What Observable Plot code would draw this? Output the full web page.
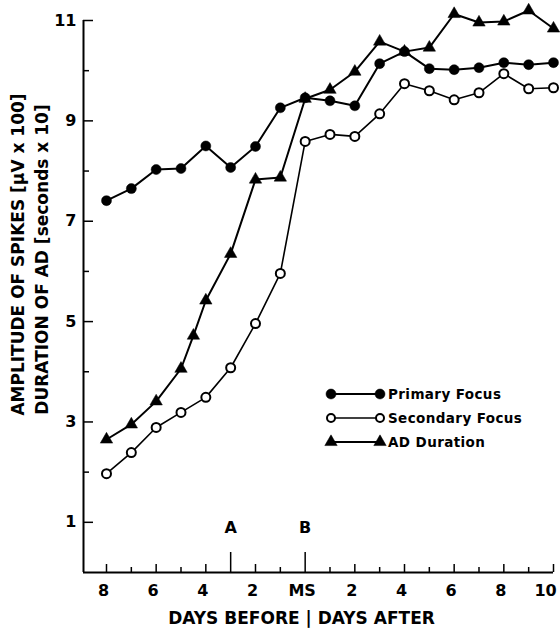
<!DOCTYPE html>
<html>
<head>
<meta charset="utf-8">
<script src="https://cdn.jsdelivr.net/npm/d3@7"></script>
<script src="https://cdn.jsdelivr.net/npm/@observablehq/plot@0.6"></script>
<style>
  html, body { margin: 0; padding: 0; background: #fff; }
  #chart { width: 560px; height: 629px; }
</style>
</head>
<body>
<div id="chart"></div>
<script>
// ---- data ----
const days = [-8, -7, -6, -5, -4, -3, -2, -1, 0, 1, 2, 3, 4, 5, 6, 7, 8, 9, 10];
const primaryFocus = [7.41, 7.65, 8.03, 8.05, 8.50, 8.07, 8.49, 9.26, 9.46, 9.40, 9.30, 10.14, 10.38, 10.04, 10.02, 10.06, 10.16, 10.12, 10.16];
const secondaryFocus = [1.97, 2.39, 2.89, 3.19, 3.49, 4.08, 4.96, 5.96, 8.59, 8.73, 8.69, 9.14, 9.74, 9.60, 9.42, 9.56, 9.94, 9.64, 9.66];
const adDays = [-8, -7, -6, -5, -4.5, -4, -3, -2, -1, 0, 1, 2, 3, 4, 5, 6, 7, 8, 9, 10];
const adDuration = [2.65, 2.95, 3.41, 4.06, 4.72, 5.42, 6.35, 7.83, 7.87, 9.44, 9.62, 9.98, 10.58, 10.38, 10.46, 11.13, 10.96, 10.98, 11.20, 10.84];

const xLabelTicks = [-8, -6, -4, -2, 0, 2, 4, 6, 8, 10];
const xLabelText = ["8", "6", "4", "2", "MS", "2", "4", "6", "8", "10"];
const xMajorTicks = [-8, -6, -4, -2, 2, 4, 6, 8, 10];
const xMinorTicks = [-7, -5, -1, 1, 3, 5, 7, 9];
const eventDays = [-3, 0];
const eventLabels = ["A", "B"];
const yMajorTicks = [1, 3, 5, 7, 9, 11];
const yMinorTicks = [2, 4, 6, 8, 10];
const seriesNames = ["Primary Focus", "Secondary Focus", "AD Duration"];
const yTitle1 = "AMPLITUDE OF SPIKES [\u03BCV x 100]";
const yTitle2 = "DURATION OF AD [seconds x 10]";
const xTitle = "DAYS BEFORE | DAYS AFTER";

// ---- tables built from the arrays ----
const primary = days.map((d, i) => ({day: d, value: primaryFocus[i]}));
const secondary = days.map((d, i) => ({day: d, value: secondaryFocus[i]}));
const ad = adDays.map((d, i) => ({day: d, value: adDuration[i]}));
const xLabels = xLabelTicks.map((d, i) => ({day: d, label: xLabelText[i]}));
const events = eventDays.map((d, i) => ({day: d, label: eventLabels[i]}));

// ---- layout ----
const W = 560, H = 629;
const mL = 83, mR = 7, mT = 20, mB = 57;
const frameW = W - mL - mR, frameH = H - mT - mB;
const xMin = -8.926;
const font = "'DejaVu Sans', Verdana, sans-serif";
const bold = {fontWeight: "bold", fill: "#000"};

const plot = Plot.plot({
  width: W,
  height: H,
  marginLeft: mL,
  marginRight: mR,
  marginTop: mT,
  marginBottom: mB,
  style: {fontFamily: font, background: "#fff", overflow: "visible"},
  x: {type: "linear", domain: [xMin, 10], axis: null},
  y: {type: "linear", domain: [0, 11], axis: null},
  marks: [
    // axis lines
    Plot.ruleX([xMin], {stroke: "#000", strokeWidth: 2}),
    Plot.ruleY([0], {stroke: "#000", strokeWidth: 2}),
    // x ticks (pointing up into the frame)
    Plot.ruleX(xMajorTicks, {insetTop: frameH - 8, stroke: "#000", strokeWidth: 1.5}),
    Plot.ruleX(xMinorTicks, {insetTop: frameH - 5, stroke: "#000", strokeWidth: 1.5}),
    Plot.ruleX(eventDays, {insetTop: frameH - 20, stroke: "#000", strokeWidth: 1.5}),
    // y ticks (pointing right into the frame)
    Plot.ruleY(yMajorTicks, {insetRight: frameW - 10, stroke: "#000", strokeWidth: 1.5}),
    Plot.ruleY(yMinorTicks, {insetRight: frameW - 6, stroke: "#000", strokeWidth: 1.5}),
    // tick labels
    Plot.text(xLabels.slice(0, -1), {x: "day", text: "label", frameAnchor: "bottom", dx: -3, dy: 18,
      textAnchor: "middle", lineAnchor: "middle", fontSize: 16, ...bold}),
    Plot.text(xLabels.slice(-1), {x: "day", text: "label", frameAnchor: "bottom", dx: -8, dy: 18,
      textAnchor: "middle", lineAnchor: "middle", fontSize: 16, letterSpacing: -1, ...bold}),
    Plot.text(yMajorTicks, {y: d => d, text: d => String(d), frameAnchor: "left", dx: -7, textAnchor: "end",
      lineAnchor: "middle", fontSize: 16, ...bold}),
    // event labels A / B
    Plot.text(events, {x: "day", text: "label", frameAnchor: "bottom", dy: -45, textAnchor: "middle",
      lineAnchor: "middle", fontSize: 16, ...bold}),
    // titles
    Plot.text([xTitle], {frameAnchor: "bottom", dx: -17, dy: 46, textAnchor: "middle", lineAnchor: "middle",
      fontSize: 17, ...bold}),
    Plot.text([yTitle1], {frameAnchor: "left", rotate: -90, dx: -65, dy: -42, textAnchor: "middle",
      lineAnchor: "middle", fontSize: 17, ...bold}),
    Plot.text([yTitle2], {frameAnchor: "left", rotate: -90, dx: -41, dy: -37, textAnchor: "middle",
      lineAnchor: "middle", fontSize: 17, ...bold}),
    // series lines
    Plot.line(secondary, {x: "day", y: "value", stroke: "#000", strokeWidth: 1.6}),
    Plot.line(ad, {x: "day", y: "value", stroke: "#000", strokeWidth: 2}),
    Plot.line(primary, {x: "day", y: "value", stroke: "#000", strokeWidth: 2}),
    // markers
    Plot.dot(secondary, {x: "day", y: "value", r: 4.5, fill: "#fff", stroke: "#000", strokeWidth: 2}),
    Plot.dot(ad, {x: "day", y: "value", symbol: "triangle", r: 4.6, fill: "#000", stroke: "#000", strokeWidth: 0.5}),
    Plot.dot(primary, {x: "day", y: "value", r: 5, fill: "#000", stroke: "#000", strokeWidth: 0.5})
  ]
});

// ---- legend (inside the frame, lower right) ----
const svg = d3.select(plot);
const legend = svg.append("g").attr("class", "legend").attr("text-anchor", "start");
const legendSymbols = [
  d3.symbol(d3.symbolCircle, Math.PI * 5 * 5),
  d3.symbol(d3.symbolCircle, Math.PI * 4 * 4),
  d3.symbol(d3.symbolTriangle, Math.PI * 4.6 * 4.6)
];
const legendFill = ["#000", "#fff", "#000"];
seriesNames.forEach((name, i) => {
  const g = legend.append("g").attr("transform", `translate(331, ${394 + i * 24})`);
  g.append("line").attr("x1", 0).attr("x2", 49).attr("y1", 0).attr("y2", 0)
    .attr("stroke", "#000").attr("stroke-width", i === 1 ? 1.6 : 2);
  [0, 49].forEach(px => {
    g.append("path").attr("d", legendSymbols[i]()).attr("transform", `translate(${px},0)`)
      .attr("fill", legendFill[i]).attr("stroke", "#000").attr("stroke-width", i === 1 ? 2 : 0.5);
  });
  g.append("text").attr("x", 57).attr("y", 0).attr("dy", "0.35em").attr("text-anchor", "start")
    .attr("font-family", font).attr("font-size", 13.5).attr("font-weight", "bold")
    .attr("letter-spacing", 0.4).attr("fill", "#000").text(name);
});

document.getElementById("chart").appendChild(plot);
</script>
</body>
</html>
